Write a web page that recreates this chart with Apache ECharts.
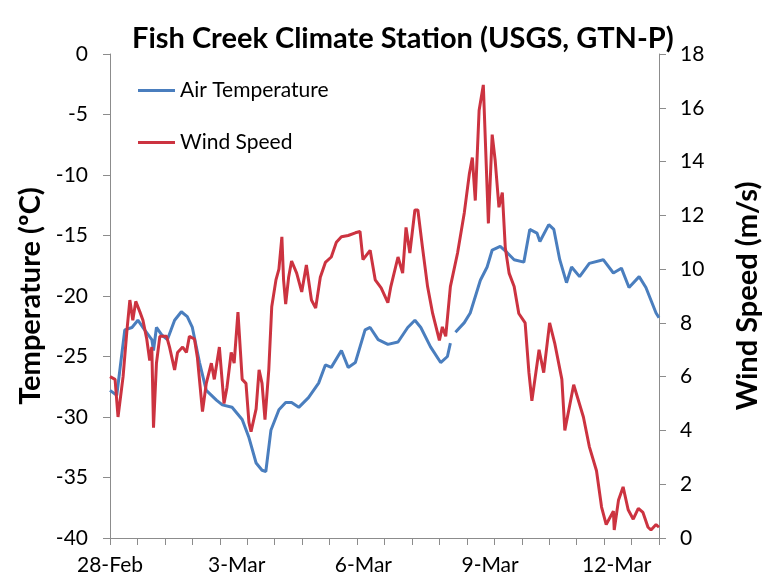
<!DOCTYPE html>
<html>
<head>
<meta charset="utf-8">
<script src="https://cdn.jsdelivr.net/npm/echarts@6/dist/echarts.min.js"></script>
<style>
  html, body { margin: 0; padding: 0; background: #fff; }
  #chart { width: 770px; height: 579px; }
</style>
</head>
<body>
<div id="chart"></div>
<script>
// days since 28-Feb 00:00
const xTickLabels = ['28-Feb', '3-Mar', '6-Mar', '9-Mar', '12-Mar'];

const tempDays = [0.00, 0.16, 0.35, 0.52, 0.66, 0.82, 0.99, 1.03, 1.10, 1.22, 1.36, 1.53, 1.69, 1.83, 1.95,
    2.12, 2.28, 2.52, 2.66, 2.89, 3.13, 3.29, 3.46, 3.60, 3.69, 3.81, 4.00, 4.16, 4.30, 4.47, 4.70, 4.94,
    5.10, 5.24, 5.48, 5.64, 5.81, 6.04, 6.16, 6.35, 6.58, 6.82, 7.05, 7.22, 7.36, 7.59, 7.83, 7.99, 8.06,
    8.12, 8.18, 8.39, 8.53, 8.77, 8.93, 9.05, 9.24, 9.40, 9.57, 9.80, 9.94, 10.11, 10.18, 10.39, 10.51,
    10.65, 10.81, 10.93, 11.12, 11.35, 11.68, 11.92, 12.11, 12.29, 12.53, 12.69, 12.93, 13.00];
const airTemp = [-27.8, -28.2, -22.8, -22.6, -22.0, -22.8, -23.6, -24.5, -22.6, -23.2, -23.6, -22.0, -21.3, -21.7, -22.6,
    -25.5, -27.8, -28.6, -29.0, -29.2, -30.2, -31.7, -33.8, -34.4, -34.5, -31.1, -29.4, -28.8, -28.8, -29.2, -28.4, -27.2,
    -25.7, -25.9, -24.5, -25.9, -25.5, -22.8, -22.6, -23.6, -24.0, -23.8, -22.6, -22.0, -22.6, -24.2, -25.5, -25.0, -23.9,
    '-', -23.0, -22.2, -21.4, -18.7, -17.6, -16.2, -15.9, -16.4, -17.0, -17.2, -14.5, -14.8, -15.5, -14.1, -14.5,
    -17.0, -18.9, -17.6, -18.4, -17.3, -17.0, -18.1, -17.7, -19.3, -18.4, -19.3, -21.4, -21.8];

const windDays = [0.00, 0.12, 0.19, 0.31, 0.40, 0.47, 0.54, 0.61, 0.71, 0.78, 0.87, 0.94, 0.99, 1.03, 1.10, 1.18,
    1.34, 1.41, 1.53, 1.60, 1.72, 1.81, 1.88, 2.00, 2.07, 2.19, 2.28, 2.40, 2.47, 2.59, 2.70, 2.77, 2.87, 2.94,
    3.03, 3.13, 3.22, 3.29, 3.34, 3.46, 3.53, 3.60, 3.67, 3.76, 3.83, 3.93, 4.00, 4.07, 4.11, 4.16, 4.23, 4.30,
    4.42, 4.54, 4.65, 4.77, 4.87, 4.98, 5.10, 5.24, 5.36, 5.48, 5.64, 5.81, 5.92, 5.99, 6.16, 6.28, 6.42, 6.58,
    6.65, 6.82, 6.93, 7.01, 7.10, 7.22, 7.29, 7.40, 7.52, 7.64, 7.80, 7.87, 7.95, 8.06, 8.23, 8.39, 8.51, 8.58,
    8.65, 8.74, 8.84, 8.89, 8.96, 9.05, 9.12, 9.21, 9.29, 9.36, 9.45, 9.57, 9.68, 9.83, 9.92, 9.99, 10.16,
    10.27, 10.41, 10.53, 10.70, 10.77, 10.98, 11.21, 11.35, 11.52, 11.64, 11.75, 11.92, 11.94, 12.04, 12.15,
    12.27, 12.39, 12.51, 12.62, 12.74, 12.81, 12.93, 13.00];
const windSpeed = [6.0, 5.9, 4.5, 6.0, 7.7, 8.85, 8.1, 8.8, 8.4, 8.1, 7.4, 6.6, 7.1, 4.1, 6.5, 7.5,
    7.5, 7.1, 6.25, 6.9, 7.1, 6.9, 7.5, 7.4, 6.7, 4.7, 5.75, 6.5, 5.9, 7.1, 5.0, 5.6, 6.9, 6.5,
    8.4, 5.9, 5.75, 4.3, 3.95, 4.8, 6.25, 5.75, 4.4, 6.25, 8.6, 9.6, 10.0, 11.2, 9.6, 8.7, 9.7, 10.3,
    9.85, 9.15, 10.15, 8.85, 8.55, 9.7, 10.25, 10.45, 11.0, 11.2, 11.25, 11.35, 11.4, 10.35, 10.7, 9.6, 9.3, 8.75,
    9.35, 10.45, 9.85, 11.55, 10.6, 12.2, 12.2, 10.8, 9.35, 8.35, 7.35, 7.85, 7.5, 9.35, 10.6, 12.1, 13.55, 14.15,
    12.55, 15.9, 16.85, 14.7, 11.7, 15.0, 14.05, 12.3, 12.85, 10.8, 9.85, 9.35, 8.35, 8.0, 6.15, 5.1, 7.0,
    6.15, 8.0, 7.25, 5.9, 4.0, 5.7, 4.5, 3.4, 2.5, 1.15, 0.5, 1.0, 0.3, 1.4, 1.9,
    1.05, 0.7, 1.1, 0.95, 0.4, 0.3, 0.5, 0.4];

const font = 'Lato';
const axisGray = '#8c8c8c';

const chart = echarts.init(document.getElementById('chart'));

const option = {
    backgroundColor: '#fff',
    animation: false,
    title: {
        text: 'Fish Creek Climate Station (USGS, GTN-P)',
        left: 127,
        top: 19,
        textStyle: { fontFamily: font, fontWeight: 'bold', fontSize: 29, color: '#000' }
    },
    legend: {
        data: ['Air Temperature', 'Wind Speed'],
        orient: 'vertical',
        left: 138,
        top: 80,
        padding: 0,
        itemGap: 31,
        itemWidth: 37,
        itemHeight: 3,
        icon: 'rect',
        textStyle: { fontFamily: font, fontSize: 21, color: '#000' }
    },
    grid: { left: 110, right: 107, top: 54, bottom: 41 },
    xAxis: [
        {
            type: 'value',
            min: 0,
            max: 13,
            interval: 3,
            axisLine: { show: true, onZero: false, lineStyle: { color: axisGray, width: 1 } },
            axisTick: { show: false },
            splitLine: { show: false },
            axisLabel: {
                margin: 17,
                fontFamily: font,
                fontSize: 21,
                color: '#000',
                formatter: v => xTickLabels[v / 3] || ''
            }
        },
        {
            // small ticks only
            type: 'value',
            min: 0,
            max: 13,
            interval: 0.65,
            position: 'bottom',
            axisLine: { show: true, onZero: false, lineStyle: { color: axisGray, width: 1 } },
            axisTick: { show: true, length: 7, lineStyle: { color: axisGray } },
            axisLabel: { show: false },
            splitLine: { show: false }
        }
    ],
    yAxis: [
        {
            type: 'value',
            min: -40,
            max: 0,
            interval: 5,
            name: 'Temperature (ºC)',
            nameLocation: 'middle',
            nameRotate: 90,
            nameGap: 58,
            nameTextStyle: { fontFamily: font, fontWeight: 'bold', fontSize: 29, color: '#000' },
            axisLine: { show: true, onZero: false, lineStyle: { color: axisGray } },
            axisTick: { show: true, length: 7, lineStyle: { color: axisGray } },
            splitLine: { show: false },
            axisLabel: { margin: 22, fontFamily: font, fontSize: 21, color: '#000' }
        },
        {
            type: 'value',
            min: 0,
            max: 18,
            interval: 2,
            position: 'right',
            name: 'Wind Speed (m/s)',
            nameLocation: 'middle',
            nameRotate: 90,
            nameGap: 74,
            nameTextStyle: { fontFamily: font, fontWeight: 'bold', fontSize: 29, color: '#000' },
            axisLine: { show: true, onZero: false, lineStyle: { color: axisGray } },
            axisTick: { show: true, length: 7, lineStyle: { color: axisGray } },
            splitLine: { show: false },
            axisLabel: { margin: 21, fontFamily: font, fontSize: 21, color: '#000' }
        }
    ],
    series: [
        {
            name: 'Air Temperature',
            type: 'line',
            xAxisIndex: 0,
            yAxisIndex: 0,
            symbol: 'none',
            connectNulls: false,
            lineStyle: { color: '#4a7ebe', width: 3 },
            itemStyle: { color: '#4a7ebe' },
            data: tempDays.map((d, i) => [d, airTemp[i]])
        },
        {
            name: 'Wind Speed',
            type: 'line',
            xAxisIndex: 0,
            yAxisIndex: 1,
            symbol: 'none',
            lineStyle: { color: '#cc3340', width: 3 },
            itemStyle: { color: '#cc3340' },
            data: windDays.map((d, i) => [d, windSpeed[i]])
        }
    ]
};

chart.setOption(option);
</script>
</body>
</html>
